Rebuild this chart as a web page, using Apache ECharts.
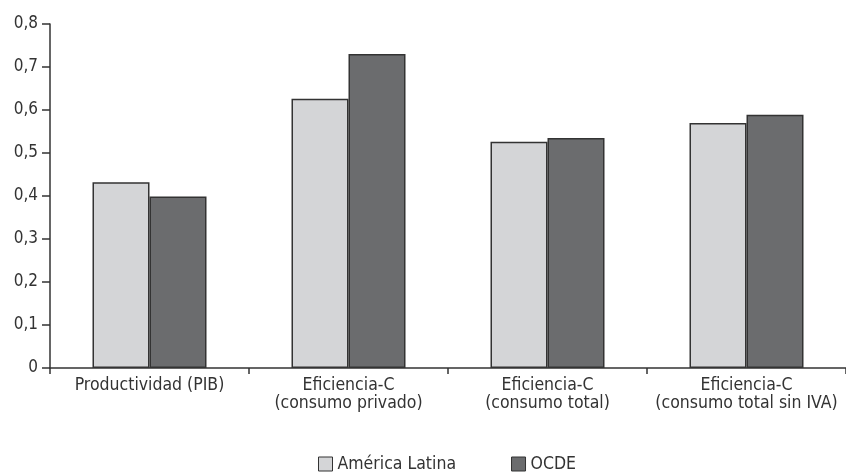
<!DOCTYPE html>
<html>
<head>
<meta charset="utf-8">
<script src="https://cdn.jsdelivr.net/npm/echarts@6/dist/echarts.min.js"></script>
<style>
  html, body { margin: 0; padding: 0; background: #fff; }
  #chart { width: 846px; height: 473px; }
</style>
</head>
<body>
<div id="chart"></div>
<script>
// categorias y valores
var categories = [
    "Productividad (PIB)",
    "Eficiencia-C\n(consumo privado)",
    "Eficiencia-C\n(consumo total)",
    "Eficiencia-C\n(consumo total sin IVA)"
];
var americaLatina = [0.432, 0.626, 0.526, 0.570];
var ocde = [0.399, 0.730, 0.535, 0.589];

var FONT = '"Liberation Sans Narrow", "DejaVu Sans Condensed", "Roboto", sans-serif';
var INK = "#333";

var chart = echarts.init(document.getElementById("chart"));

function barSeries(name, data, color) {
    return {
        name: name,
        type: "bar",
        data: data,
        barWidth: 57,
        barGap: "0%",
        itemStyle: { color: color, borderColor: INK, borderWidth: 1.5 },
        emphasis: { disabled: true }
    };
}

chart.setOption({
    animation: false,
    textStyle: { fontFamily: FONT },
    grid: { left: 50, right: -4, top: 24, bottom: 105 },
    legend: {
        bottom: -5,
        left: 313,
        itemWidth: 14,
        itemHeight: 14,
        itemGap: 55,
        icon: "rect",
        textStyle: { fontFamily: FONT, fontSize: 17.5, color: INK },
        itemStyle: { borderColor: INK, borderWidth: 1 },
        data: ["América Latina", "OCDE"]
    },
    xAxis: {
        type: "category",
        data: categories,
        boundaryGap: true,
        axisLine: { lineStyle: { color: INK, width: 1.5 } },
        axisTick: { show: true, alignWithLabel: false, length: 6, lineStyle: { color: INK, width: 1.5 } },
        axisLabel: {
            interval: 0,
            margin: 8,
            fontFamily: FONT,
            fontSize: 17.5,
            lineHeight: 18,
            color: INK
        }
    },
    yAxis: {
        type: "value",
        min: 0,
        max: 0.8,
        interval: 0.1,
        splitLine: { show: false },
        axisLine: { show: true, lineStyle: { color: INK, width: 1.5 } },
        axisTick: { show: true, length: 8, lineStyle: { color: INK, width: 1.5 } },
        axisLabel: {
            margin: 12,
            fontFamily: FONT,
            fontSize: 17,
            color: INK,
            formatter: function (v) {
                return v === 0 ? "0" : v.toFixed(1).replace(".", ",");
            }
        }
    },
    series: [
        barSeries("América Latina", americaLatina, "#d4d5d7"),
        barSeries("OCDE", ocde, "#6b6c6e")
    ]
});
</script>
</body>
</html>
